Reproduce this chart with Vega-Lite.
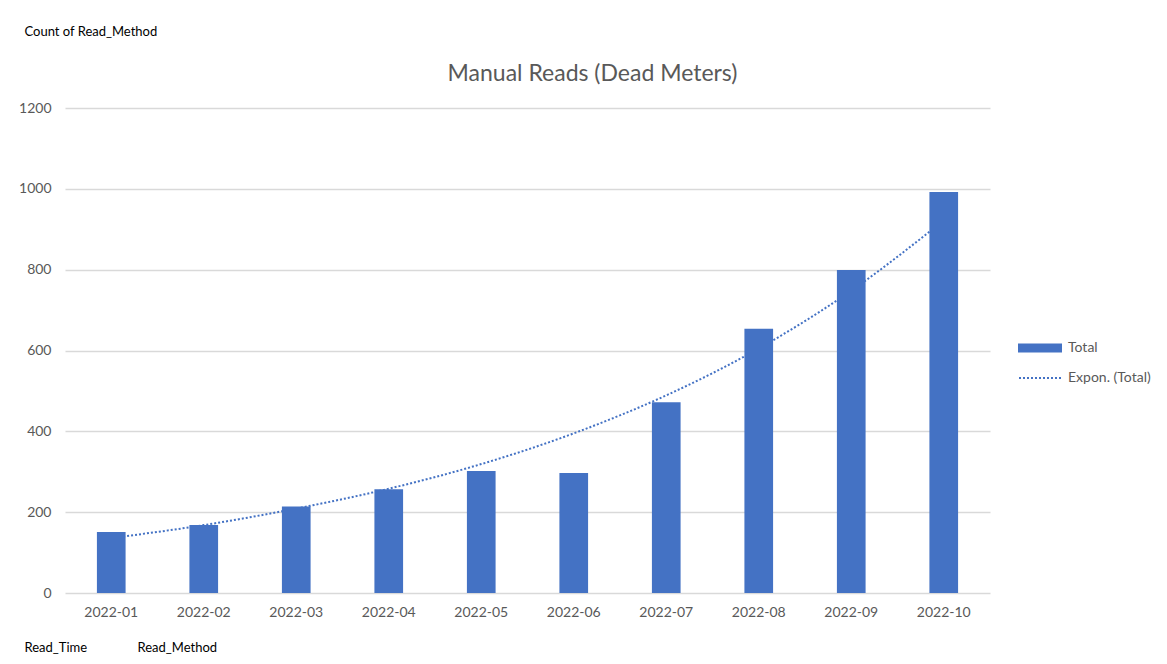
{
  "$schema": "https://vega.github.io/schema/vega-lite/v6.json",
  "autosize": "none",
  "width": 925,
  "height": 485,
  "padding": {"left": 65, "top": 108, "right": 177, "bottom": 71},
  "background": "white",
  "config": {
    "view": {"stroke": null},
    "font": "Lato",
    "axis": {"labelFont": "Lato", "titleFont": "Lato", "labelColor": "#595959", "labelFontSize": 14},
    "legend": {"labelFont": "Lato", "labelFontSize": 14, "labelColor": "#595959"}
  },
  "title": {
    "text": "Manual Reads (Dead Meters)",
    "font": "Lato",
    "fontSize": 23,
    "fontWeight": "normal",
    "color": "#595959",
    "anchor": "middle",
    "frame": "group",
    "dx": 65,
    "dy": 85,
    "offset": 24
  },
  "data": {
    "values": [
      {"month": "2022-01", "count": 151, "trend": 136},
      {"month": "2022-02", "count": 168, "trend": 168},
      {"month": "2022-03", "count": 214, "trend": 209},
      {"month": "2022-04", "count": 257, "trend": 258},
      {"month": "2022-05", "count": 302, "trend": 319},
      {"month": "2022-06", "count": 297, "trend": 395},
      {"month": "2022-07", "count": 472, "trend": 489},
      {"month": "2022-08", "count": 654, "trend": 605},
      {"month": "2022-09", "count": 799, "trend": 748},
      {"month": "2022-10", "count": 992, "trend": 922}
    ]
  },
  "encoding": {
    "x": {
      "field": "month",
      "type": "ordinal",
      "scale": {"paddingInner": 0, "paddingOuter": 0},
      "axis": {
        "labelAngle": 0,
        "labelPadding": 12,
        "domain": false,
        "ticks": false,
        "grid": false,
        "title": "Read_Time",
        "titleFontSize": 13,
        "titleFontWeight": "normal",
        "titleColor": "#000000",
        "titleAlign": "left",
        "titleBaseline": "middle",
        "titleX": -41,
        "titleY": 54
      }
    }
  },
  "layer": [
    {
      "mark": {"type": "line", "color": "#4472C4", "strokeWidth": 2, "interpolate": "monotone", "strokeCap": "butt"},
      "encoding": {
        "y": {
          "field": "trend",
          "type": "quantitative",
          "scale": {"domain": [0, 1200]},
          "axis": {
            "orient": "right",
            "labels": false,
            "ticks": false,
            "domain": false,
            "grid": false,
            "title": "Read_Method",
            "titleAngle": 0,
            "titleFontSize": 13,
            "titleFontWeight": "normal",
            "titleColor": "#000000",
            "titleAlign": "left",
            "titleBaseline": "middle",
            "titleX": -853,
            "titleY": 539
          }
        },
        "strokeDash": {
          "datum": "Expon. (Total)",
          "scale": {"domain": ["Expon. (Total)"], "range": [[2, 2]]},
          "legend": {
            "title": null,
            "orient": "none",
            "legendX": 953,
            "legendY": 248,
            "padding": 0,
            "symbolType": "stroke",
            "symbolSize": 1764,
            "symbolStrokeWidth": 2,
            "symbolStrokeColor": "#4472C4",
            "labelOffset": 6
          }
        }
      }
    },
    {
      "mark": {"type": "bar", "width": {"band": 0.31}},
      "encoding": {
        "y": {
          "field": "count",
          "type": "quantitative",
          "scale": {"domain": [0, 1200]},
          "axis": {
            "values": [0, 200, 400, 600, 800, 1000, 1200],
            "format": "d",
            "domain": false,
            "ticks": false,
            "grid": true,
            "gridColor": "#d9d9d9",
            "gridWidth": 1.5,
            "labelPadding": 14,
            "title": "Count of Read_Method",
            "titleAngle": 0,
            "titleFontSize": 13,
            "titleFontWeight": "normal",
            "titleColor": "#000000",
            "titleAlign": "left",
            "titleBaseline": "middle",
            "titleX": -41,
            "titleY": -77
          }
        },
        "color": {
          "datum": "Total",
          "scale": {"domain": ["Total"], "range": ["#4472C4"]},
          "legend": {
            "title": null,
            "orient": "none",
            "legendX": 953,
            "legendY": 218,
            "padding": 0,
            "symbolType": "M-1,-0.2L1,-0.2L1,0.2L-1,0.2Z",
            "symbolSize": 1936,
            "symbolStrokeWidth": 0,
            "labelOffset": 6
          }
        }
      }
    }
  ],
  "resolve": {"scale": {"y": "independent"}}
}
